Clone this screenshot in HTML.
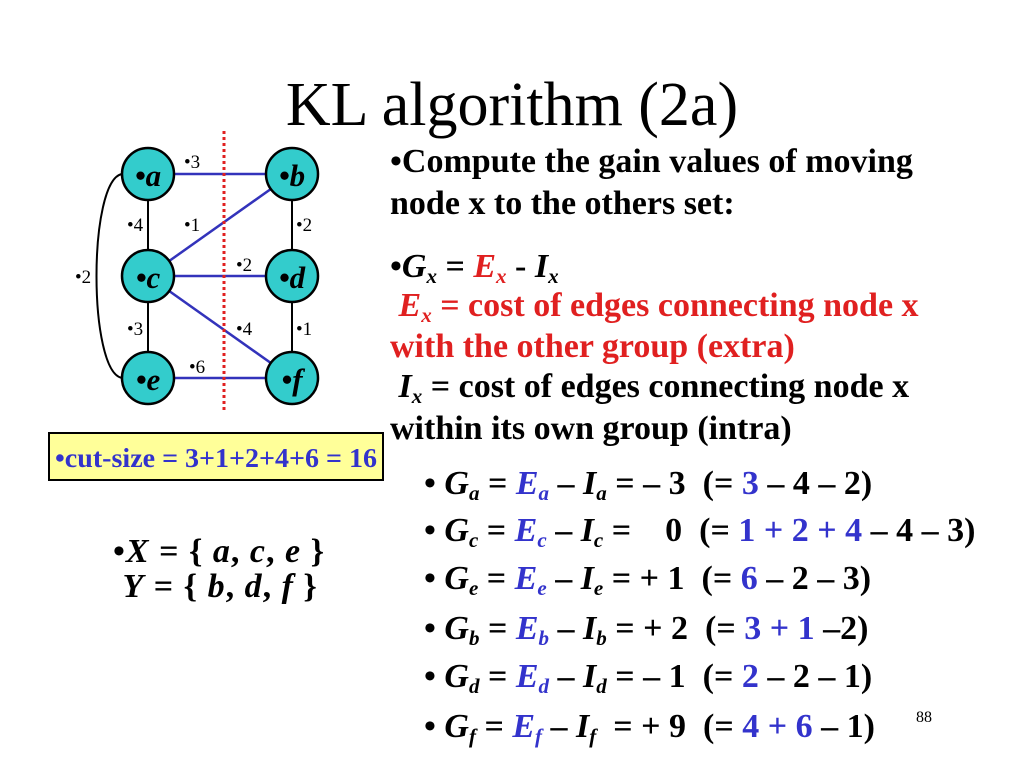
<!DOCTYPE html>
<html><head><style>
body{margin:0;width:1024px;height:768px;background:#fff;position:relative;overflow:hidden;font-family:"Liberation Serif",serif}
.t{position:absolute;white-space:nowrap;font-weight:bold;font-size:34px;line-height:34px;color:#000}
.r{color:#e02020}.b{color:#3333cc}
sub{font-size:21px;vertical-align:-6px;line-height:0}
i{font-style:italic}
</style></head><body>
<div style="position:absolute;left:0;width:1024px;top:67px;line-height:76px;text-align:center;font-size:62px;">KL algorithm (2a)</div>
<svg width="1024" height="768" style="position:absolute;left:0;top:0" font-family="Liberation Serif">
<path d="M122,174 C88,180 88,372 122,378" fill="none" stroke="#000" stroke-width="2"/>
<line x1="148" y1="174" x2="148" y2="378" stroke="#000" stroke-width="2"/>
<line x1="292" y1="174" x2="292" y2="378" stroke="#000" stroke-width="2"/>
<g stroke="#3333bb" stroke-width="2.5">
<line x1="148" y1="174" x2="292" y2="174"/>
<line x1="148" y1="276" x2="292" y2="174"/>
<line x1="148" y1="276" x2="292" y2="276"/>
<line x1="148" y1="276" x2="292" y2="378"/>
<line x1="148" y1="378" x2="292" y2="378"/>
</g>
<line x1="224" y1="131" x2="224" y2="413" stroke="#e02020" stroke-width="3" stroke-dasharray="3,3"/>
<g fill="#33cccc" stroke="#000" stroke-width="2.5">
<circle cx="148" cy="174" r="26"/><circle cx="292" cy="174" r="26"/>
<circle cx="148" cy="276" r="26"/><circle cx="292" cy="276" r="26"/>
<circle cx="148" cy="378" r="26"/><circle cx="292" cy="378" r="26"/>
</g>
<g font-size="31" font-weight="bold" font-style="italic" text-anchor="middle">
<text x="148" y="186">•a</text><text x="292" y="186">•b</text>
<text x="148" y="288">•c</text><text x="292" y="288">•d</text>
<text x="148" y="390">•e</text><text x="292" y="390">•f</text>
</g>
<g font-size="19">
<text x="184" y="168">•3</text><text x="127" y="231">•4</text><text x="184" y="231">•1</text>
<text x="296" y="231">•2</text><text x="75" y="283">•2</text><text x="236" y="271">•2</text>
<text x="127" y="335">•3</text><text x="236" y="335">•4</text><text x="296" y="335">•1</text>
<text x="189" y="373">•6</text>
</g>
<rect x="49" y="433" width="334" height="47" fill="#ffff99" stroke="#000" stroke-width="2"/>
<text x="216" y="467" text-anchor="middle" font-size="27" font-weight="bold" fill="#3333cc" textLength="322" lengthAdjust="spacingAndGlyphs">•cut-size = 3+1+2+4+6 = 16</text>
</svg>
<div class="t" style="left:390px;top:145px">•Compute the gain values of moving</div>
<div class="t" style="left:390px;top:187px">node x to the others set:</div>
<div class="t" style="left:390px;top:250px">•<i>G<sub>x</sub></i> = <span class="r"><i>E<sub>x</sub></i></span> - <i>I<sub>x</sub></i></div>
<div class="t r" style="left:390px;top:289px">&nbsp;<i>E<sub>x</sub></i> = cost of edges connecting node x</div>
<div class="t r" style="left:390px;top:330px">with the other group (extra)</div>
<div class="t" style="left:390px;top:370px">&nbsp;<i>I<sub>x</sub></i> = cost of edges connecting node x</div>
<div class="t" style="left:390px;top:412px">within its own group (intra)</div>
<div class="t" style="left:424px;top:467px">• <i>G<sub>a</sub></i> = <i class="b">E<sub>a</sub></i> – <i>I<sub>a</sub></i> = – 3 &nbsp;(= <span class="b">3</span> – 4 – 2)</div>
<div class="t" style="left:424px;top:514px">• <i>G<sub>c</sub></i> = <i class="b">E<sub>c</sub></i> – <i>I<sub>c</sub></i> = &nbsp;&nbsp; 0 &nbsp;(= <span class="b">1 + 2 + 4</span> – 4 – 3)</div>
<div class="t" style="left:424px;top:562px">• <i>G<sub>e</sub></i> = <i class="b">E<sub>e</sub></i> – <i>I<sub>e</sub></i> = + 1 &nbsp;(= <span class="b">6</span> – 2 – 3)</div>
<div class="t" style="left:424px;top:612px">• <i>G<sub>b</sub></i> = <i class="b">E<sub>b</sub></i> – <i>I<sub>b</sub></i> = + 2 &nbsp;(= <span class="b">3 + 1</span> –2)</div>
<div class="t" style="left:424px;top:660px">• <i>G<sub>d</sub></i> = <i class="b">E<sub>d</sub></i> – <i>I<sub>d</sub></i> = – 1 &nbsp;(= <span class="b">2</span> – 2 – 1)</div>
<div class="t" style="left:424px;top:710px">• <i>G<sub>f</sub></i> = <i class="b">E<sub>f</sub></i> – <i>I<sub>f</sub></i> &nbsp;= + 9 &nbsp;(= <span class="b">4 + 6</span> – 1)</div>
<div class="t" style="left:113px;top:535px;letter-spacing:1px">•<i>X</i> = { <i>a</i>, <i>c</i>, <i>e</i> }</div>
<div class="t" style="left:113px;top:570px;letter-spacing:1px">&nbsp;<i>Y</i> = { <i>b</i>, <i>d</i>, <i>f</i> }</div>
<div style="position:absolute;left:916px;top:709px;font-size:16px">88</div>
</body></html>
